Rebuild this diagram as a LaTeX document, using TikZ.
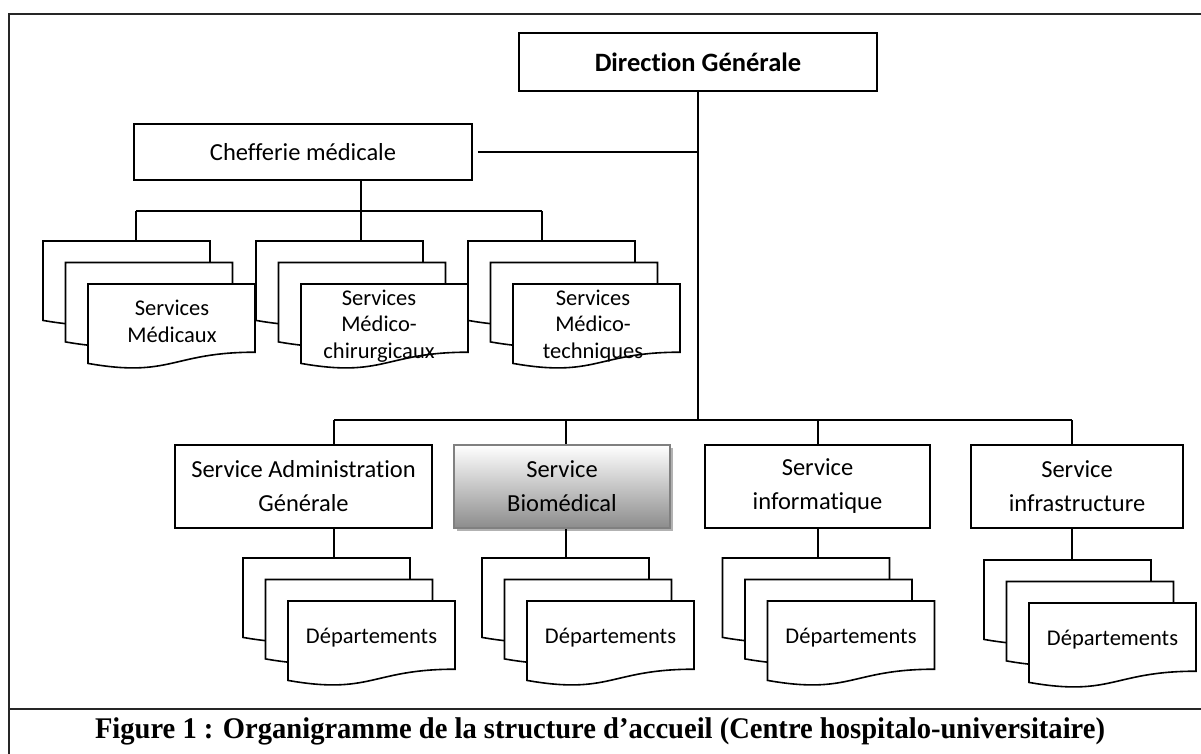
\documentclass[tikz,border=0pt]{standalone}
\usepackage{fontspec}
\usepackage{graphicx}
\setmainfont{Carlito}[Ligatures=NoCommon]
\newfontfamily\capfont{Liberation Serif}
\usetikzlibrary{shadows}

% a stack of three "document" sheets; #1 = name of the back sheet, #2,#3 = its top-left corner
\newcommand\docstack[3]{%
  \foreach \k in {0,1,2}{%
    \begin{scope}[shift={(#2+22.5*\k,#3+21.5*\k)}]
      \filldraw[sheet] (0,0) -- (167,0) -- (167,68.2)
        .. controls (83.5,68.2) and (83.5,94.1) .. (0,79.4) -- cycle;
    \end{scope}}%
  \node[inner sep=0pt, minimum width=167pt, minimum height=85pt, anchor=north west] (#1) at (#2,#3) {};}

\begin{document}
\begin{tikzpicture}[x=1pt,y=-1pt,
  box/.style={draw, line width=1.6pt, fill=white, align=center, inner sep=0pt,
              minimum height=83pt, font=\fontsize{24.5}{34}\selectfont},
  link/.style={line width=1.6pt},
  sheet/.style={draw, fill=white, line width=1.6pt},
  sheettext/.style={align=center, inner sep=0pt, font=\fontsize{22.5}{26.5}\selectfont},
  frame/.style={line width=2.2pt, draw=black!85}]
\useasboundingbox (0,0) rectangle (1201,753);
\fill[white] (0,0) rectangle (1201,753);

% outer frame and caption separator
\draw[frame] (1203,14) -- (9,14) -- (9,755);
\draw[frame] (9,709) -- (1203,709);

% junction points of the connectors
\coordinate (tb) at (698,420);
\coordinate (jA) at (334,420);
\coordinate (jB) at (566,420);
\coordinate (jC) at (818,420);
\coordinate (jD) at (1072,420);
\coordinate (kA) at (136,211);
\coordinate (kB) at (361,211);
\coordinate (kC) at (542,211);

% top level
\node[box, minimum width=358pt, minimum height=58pt,
      font=\bfseries\fontsize{26.5}{30}\selectfont] (dg) at (698,62) {Direction Générale};
\node[box, minimum width=338pt, minimum height=56pt] (cm) at (303,152) {Chefferie médicale};

\draw[link] (dg.south) -- (tb);
\draw[link, shorten <=5pt] (cm.east) -- (cm.east -| tb);
\draw[link] (jA) -- (jD);
\draw[link] (kA) -- (kC);
\draw[link] (cm.south -| kB) -- (kB);

% medical services
\docstack{sA}{43}{241}
\docstack{sB}{256}{241}
\docstack{sC}{468}{241}
\draw[link] (kA) -- (kA |- sA.north);
\draw[link] (kB) -- (kB |- sB.north);
\draw[link] (kC) -- (kC |- sC.north);
\node[sheettext] (tA) at (172,321.5) {Services\\Médicaux};
\node[sheettext] (tB) at (379,326) {Services\\Médico-\\chirurgicaux};
\node[sheettext] (tC) at (593,326) {Services\\Médico-\\techniques};

% support services
\node[box, minimum width=257pt] (adm) at (303.5,486.5) {Service Administration\\Générale};
\node[box, minimum width=216pt, draw=black!50, line width=2.6pt,
      top color=white, bottom color=black!45,
      drop shadow={shadow xshift=3pt, shadow yshift=-3pt, fill=black!30, opacity=1}]
      (bio) at (562,486.5) {Service\\Biomédical};
\node[box, minimum width=225pt] (inf) at (817.5,486.5) {Service\\informatique};
\node[box, minimum width=212pt] (ifr) at (1077,486.5) {Service\\infrastructure};

\draw[link] (jA) -- (jA |- adm.north);
\draw[link] (jB) -- (jB |- bio.north);
\draw[link] (jC) -- (jC |- inf.north);
\draw[link] (jD) -- (jD |- ifr.north);

% departments
\docstack{dA}{243}{558}
\docstack{dB}{482}{558}
\docstack{dC}{722.5}{558}
\docstack{dD}{984}{560}
\draw[link] (jA |- adm.south) -- (jA |- dA.north);
\draw[link] (jB |- bio.south) -- (jB |- dB.north);
\draw[link] (jC |- inf.south) -- (jC |- dC.north);
\draw[link] (jD |- ifr.south) -- (jD |- dD.north);
\node[sheettext] (eA) at (371.5,638) {Départements};
\node[sheettext] (eB) at (610.5,638) {Départements};
\node[sheettext] (eC) at (851,638) {Départements};
\node[sheettext] (eD) at (1112.5,640) {Départements};

% caption
\node[inner sep=0pt, font=\capfont\bfseries] (cap) at (600,731)
  {\resizebox{1010pt}{\height}{\fontsize{30}{30}\selectfont Figure 1 : Organigramme de la structure d’accueil (Centre hospitalo-universitaire)}};
\end{tikzpicture}
\end{document}
